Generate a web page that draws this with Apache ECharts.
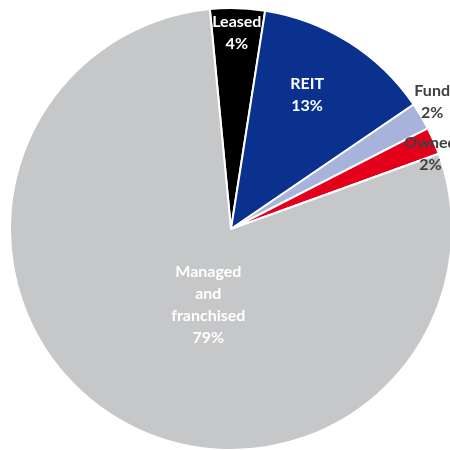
<!DOCTYPE html>
<html>
<head>
<meta charset="utf-8">
<script src="https://cdn.jsdelivr.net/npm/echarts@6/dist/echarts.min.js"></script>
<style>
  html, body { margin: 0; padding: 0; background: #ffffff; }
  #chart { width: 450px; height: 450px; }
</style>
</head>
<body>
<div id="chart"></div>
<script>
// Portfolio mix by ownership type (percent)
const categories = ['Leased', 'REIT', 'Fund', 'Owned', 'Managed\nand\nfranchised'];
const shares = [4, 13, 2, 2, 79];

// Slice colours and label styling
const sliceColors = ['#000000', '#0b318f', '#a7b3da', '#e4001b', '#c6c7c9'];
const labelColors = ['#ffffff', '#ffffff', '#404040', '#404040', '#ffffff'];
// Label placement: fraction of radius, and angular shift (deg) from slice middle
const labelRadius = [0.887, 0.697, 1.077, 0.964, 0.357];
const labelShift = [0, 2.7, 1.6, -2.9, 15.6];

const CX = 231, CY = 229, R = 221, START = 95.5;

const total = shares.reduce((a, b) => a + b, 0);
function midAngle(i) {
  let before = 0;
  for (let k = 0; k < i; k++) before += shares[k];
  return START - (before + shares[i] / 2) / total * 360;
}

const chart = echarts.init(document.getElementById('chart'), null, { renderer: 'canvas' });
chart.setOption({
  backgroundColor: '#ffffff',
  animation: false,
  series: [{
    type: 'pie',
    center: [CX, CY],
    radius: R,
    startAngle: START,
    clockwise: true,
    avoidLabelOverlap: false,
    itemStyle: { borderColor: '#ffffff', borderWidth: 2 },
    labelLine: { show: false },
    label: {
      show: true,
      position: 'inside',
      fontFamily: 'Lato',
      fontWeight: 'bold',
      fontSize: 16,
      lineHeight: 22,
      formatter: p => p.name + '\n' + p.value + '%'
    },
    labelLayout: function (params) {
      const i = params.dataIndex;
      const a = (midAngle(i) + labelShift[i]) * Math.PI / 180;
      const rr = labelRadius[i] * R;
      return {
        x: CX + rr * Math.cos(a),
        y: CY - rr * Math.sin(a),
        align: 'center',
        verticalAlign: 'middle'
      };
    },
    data: categories.map((name, i) => ({
      name: name,
      value: shares[i],
      itemStyle: { color: sliceColors[i] },
      label: { color: labelColors[i] }
    }))
  }]
});
</script>
</body>
</html>
